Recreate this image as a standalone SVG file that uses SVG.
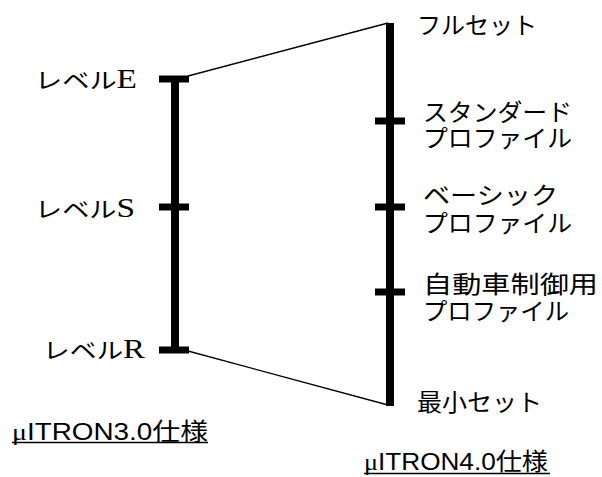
<svg xmlns="http://www.w3.org/2000/svg" width="602" height="477" viewBox="0 0 602 477">
<style>
.bar{stroke:#000;stroke-width:8;fill:none}
.tick{stroke:#000;stroke-width:7;fill:none}
.thin{stroke:#000;stroke-width:1.3;fill:none}
.ul{stroke:#000;stroke-width:1.5}
.jp{font-family:"Noto Sans CJK JP","Liberation Sans",sans-serif;font-size:24px;fill:#000}
.lv{font-family:"Noto Sans CJK JP","Liberation Serif",sans-serif;font-size:22px;fill:#000}
.ser{font-family:"Liberation Serif",serif}
.big{font-size:27px}
.sans{font-family:"Liberation Sans","Noto Sans CJK JP",sans-serif}
</style>
<rect width="602" height="477" fill="#fff"/>
<g id="connectors">
<line class="thin" x1="188" y1="76" x2="388" y2="23"/>
<line class="thin" x1="188" y1="351" x2="388" y2="405"/>
</g>
<g id="v30-scale">
<line class="bar" x1="175" y1="76" x2="175" y2="353"/>
<line class="tick" x1="159" y1="79" x2="189" y2="79"/>
<line class="tick" x1="159" y1="207" x2="189" y2="207"/>
<line class="tick" x1="159" y1="350" x2="189" y2="350"/>
</g>
<g id="v40-scale">
<line class="bar" x1="390" y1="23" x2="390" y2="406"/>
<line class="tick" x1="375" y1="121" x2="405" y2="121"/>
<line class="tick" x1="375" y1="207" x2="405" y2="207"/>
<line class="tick" x1="375" y1="292" x2="405" y2="292"/>
</g>
<g id="level-e"><text class="lv" x="35" y="88" textLength="102" lengthAdjust="spacingAndGlyphs">レベル<tspan class="ser big">E</tspan></text></g>
<g id="level-s"><text class="lv" x="35" y="217" textLength="100" lengthAdjust="spacingAndGlyphs">レベル<tspan class="ser big">S</tspan></text></g>
<g id="level-r"><text class="lv" x="43" y="358" textLength="102" lengthAdjust="spacingAndGlyphs">レベル<tspan class="ser big">R</tspan></text></g>
<g id="full-set"><text class="jp" x="417" y="34" textLength="120" lengthAdjust="spacingAndGlyphs">フルセット</text></g>
<g id="standard-profile">
<text class="jp" x="423" y="121" textLength="149" lengthAdjust="spacingAndGlyphs">スタンダード</text>
<text class="jp" x="423" y="147" textLength="149" lengthAdjust="spacingAndGlyphs">プロファイル</text>
</g>
<g id="basic-profile">
<text class="jp" x="423" y="204" textLength="135" lengthAdjust="spacingAndGlyphs">ベーシック</text>
<text class="jp" x="423" y="232" textLength="149" lengthAdjust="spacingAndGlyphs">プロファイル</text>
</g>
<g id="automotive-profile">
<text class="jp" x="423" y="293" textLength="175" lengthAdjust="spacingAndGlyphs">自動車制御用</text>
<text class="jp" x="423" y="320" textLength="146" lengthAdjust="spacingAndGlyphs">プロファイル</text>
</g>
<g id="min-set"><text class="jp" x="417" y="411" textLength="125" lengthAdjust="spacingAndGlyphs">最小セット</text></g>
<g id="v30-title">
<text class="jp" x="12" y="440" textLength="196" lengthAdjust="spacingAndGlyphs"><tspan class="ser">μ</tspan><tspan class="sans">ITRON3.0</tspan>仕様</text>
<line class="ul" x1="12" y1="442.5" x2="208" y2="442.5"/>
</g>
<g id="v40-title">
<text class="jp" x="364" y="470" textLength="184" lengthAdjust="spacingAndGlyphs"><tspan class="ser">μ</tspan><tspan class="sans">ITRON4.0</tspan>仕様</text>
<line class="ul" x1="364" y1="473.5" x2="550" y2="473.5"/>
</g>
</svg>
